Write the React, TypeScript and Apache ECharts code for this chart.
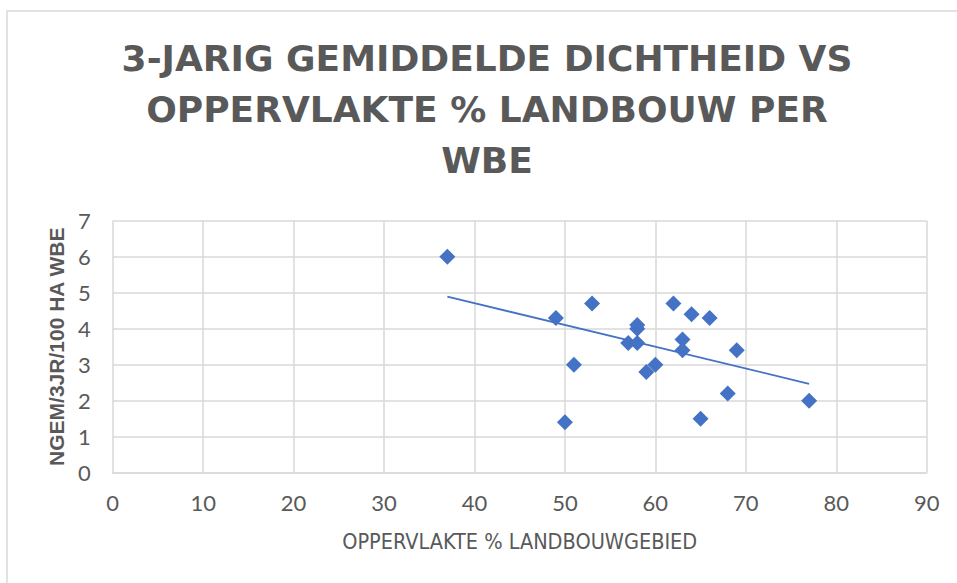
import React, { useEffect, useRef } from "react";
import * as echarts from "echarts";

const titleLines = ["3-JARIG GEMIDDELDE DICHTHEID VS", "OPPERVLAKTE % LANDBOUW PER", "WBE"];
const xAxisName = "OPPERVLAKTE % LANDBOUWGEBIED";
const yAxisName = "NGEM/3JR/100 HA WBE";

// x: oppervlakte % landbouwgebied, y: dichtheid
const landbouwPct = [37, 49, 53, 51, 50, 58, 58, 57, 58, 59, 60, 62, 64, 66, 63, 63, 69, 68, 65, 77];
const dichtheid = [6.0, 4.3, 4.7, 3.0, 1.4, 4.1, 4.0, 3.6, 3.6, 2.8, 3.0, 4.7, 4.4, 4.3, 3.7, 3.4, 3.4, 2.2, 1.5, 2.0];

// linear trendline endpoints
const trendX = [37, 77];
const trendY = [4.89, 2.47];

const BLUE = "#4472C4";
const GRID = "#d9d9d9";
const TEXT = "#595959";

export default function App() {
  const ref = useRef<HTMLDivElement>(null);

  useEffect(() => {
    if (!ref.current) return;
    const chart = echarts.init(ref.current, null, { renderer: "svg" });
    const points = landbouwPct.map((x, i) => [x, dichtheid[i]]);
    const trend = trendX.map((x, i) => [x, trendY[i]]);

    chart.setOption({
      animation: false,
      backgroundColor: "#ffffff",
      grid: { left: 112.7, right: 30.3, top: 220.7, bottom: 110.3, containLabel: false },
      graphic: [
        {
          type: "rect",
          shape: { x: 7, y: 11, width: 1000, height: 1000 },
          style: { fill: "none", stroke: GRID, lineWidth: 1.5 },
          silent: true,
          z: -10,
        },
        {
          type: "text",
          x: 487,
          y: 109.5,
          style: {
            text: titleLines.join("\n"),
            fontFamily: "'DejaVu Sans', sans-serif",
            fontWeight: "bold",
            fontSize: 36,
            lineHeight: 51,
            fill: TEXT,
            align: "center",
            verticalAlign: "middle",
          },
        },
      ],
      xAxis: {
        type: "value",
        min: 0,
        max: 90,
        interval: 10,
        name: xAxisName,
        nameLocation: "middle",
        nameGap: 58,
        nameTextStyle: {
          fontFamily: "'Liberation Sans Narrow', 'DejaVu Sans Condensed', sans-serif",
          fontSize: 21.5,
          color: TEXT,
        },
        axisLine: { show: true, lineStyle: { color: GRID, width: 1.5 } },
        axisTick: { show: false },
        axisLabel: {
          margin: 19,
          fontFamily: "Lato, sans-serif",
          fontSize: 22,
          color: TEXT,
        },
        splitLine: { show: true, lineStyle: { color: GRID, width: 1.5 } },
      },
      yAxis: {
        type: "value",
        min: 0,
        max: 7,
        interval: 1,
        name: yAxisName,
        nameLocation: "middle",
        nameGap: 46,
        nameTextStyle: {
          fontFamily: "'Liberation Sans', sans-serif",
          fontWeight: "bold",
          fontSize: 21,
          color: TEXT,
        },
        axisLine: { show: false },
        axisTick: { show: false },
        axisLabel: {
          margin: 22,
          fontFamily: "Lato, sans-serif",
          fontSize: 22,
          color: TEXT,
        },
        splitLine: { show: true, lineStyle: { color: GRID, width: 1.5 } },
      },
      series: [
        {
          type: "scatter",
          data: points,
          symbol: "diamond",
          symbolSize: 16,
          itemStyle: { color: BLUE, opacity: 1 },
          z: 3,
        },
        {
          type: "line",
          data: trend,
          showSymbol: false,
          symbol: "none",
          lineStyle: { color: BLUE, width: 1.75 },
          z: 2,
        },
      ],
    });

    return () => chart.dispose();
  }, []);

  return (
    <div
      ref={ref}
      style={{ position: "absolute", left: 0, top: 0, width: 957, height: 583 }}
    />
  );
}
